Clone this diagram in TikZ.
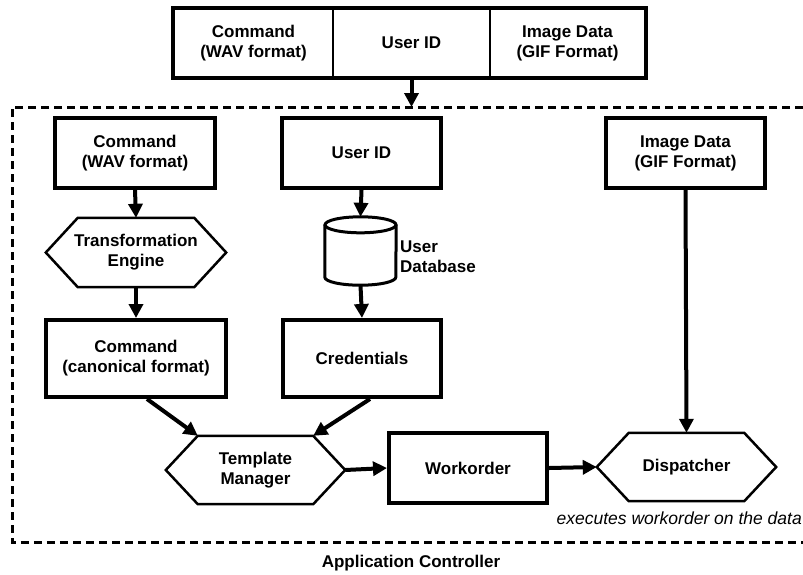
\documentclass[tikz,border=0pt]{standalone}
\usepackage{fontspec}
\setmainfont{Liberation Sans}
\usetikzlibrary{arrows.meta,calc}
\newcommand\HexShape[1]{\draw[hexline] (#1.west) -- ([xshift=32pt]#1.north west) -- ([xshift=-32pt]#1.north east) -- (#1.east) -- ([xshift=-32pt]#1.south east) -- ([xshift=32pt]#1.south west) -- cycle;}
\begin{document}
\begin{tikzpicture}[x=1pt,y=-1pt,
  lbl/.style={font=\bfseries\fontsize{17}{20}\selectfont, align=center, inner sep=0pt},
  cell/.style={lbl, draw, line width=1.5pt, minimum height=68pt},
  box/.style={lbl, draw, line width=4pt, minimum height=70pt},
  hexn/.style={lbl, minimum width=179pt, minimum height=68pt},
  hexline/.style={line width=2.5pt, line join=miter},
  cylline/.style={line width=3pt},
  arr/.style={line width=4pt, -{Triangle[length=14pt,width=14pt]}},
  dashline/.style={line width=3pt, dash pattern=on 8pt off 5pt},
  note/.style={font=\itshape\fontsize{17.5}{20}\selectfont, inner sep=0pt}
]
\useasboundingbox (0,0) rectangle (803,574);

% top message box
\node[cell, minimum width=159pt] (t1) at (253.5,43) {Command\\(WAV format)};
\node[cell, minimum width=157pt] (t2) at (411.5,43) {User ID};
\node[cell, minimum width=155pt] (t3) at (567.5,43) {Image Data\\(GIF Format)};
\draw[line width=4pt] (t1.north west) rectangle (t3.south east);

% application controller region
\draw[dashline] (803,107) -- (12,107) -- (12,542) -- (803,542);
\coordinate (ctltop) at (411.5,107);
\draw[arr] (t2.south) -- (ctltop);

% first row
\node[box, minimum width=160pt] (cw) at (135,153) {Command\\(WAV format)};
\node[box, minimum width=159pt] (uid) at (361.5,153) {User ID};
\node[box, minimum width=159pt] (img) at (685.5,153) {Image Data\\(GIF Format)};

% second row
\node[hexn, minimum width=180pt, minimum height=69pt] (te) at (136,252.5) {Transformation\\Engine};
\HexShape{te}
\node[minimum width=71pt, minimum height=68pt, inner sep=0pt] (db) at (360.5,251) {};
\draw[cylline] ($(db.north west)+(0,8)$) -- ($(db.south west)+(0,-8)$)
  arc[start angle=180, end angle=360, x radius=35.5pt, y radius=8pt]
  -- ($(db.north east)+(0,8)$);
\draw[cylline] ($(db.north)+(0,8)$) ellipse [x radius=35.5pt, y radius=8pt];
\node[lbl, anchor=west, align=left] (dbl) at (400,257) {User\\Database};

% third row
\node[box, minimum width=180pt, minimum height=77pt] (cc) at (136,358.5) {Command\\(canonical format)};
\node[box, minimum width=158pt, minimum height=77pt] (cr) at (362,358.5) {Credentials};

% bottom row
\node[hexn] (tm) at (255.5,470) {Template\\Manager};
\HexShape{tm}
\node[box, minimum width=158pt] (wo) at (468,468) {Workorder};
\node[hexn] (dp) at (686.5,467) {Dispatcher};
\HexShape{dp}
\node[note, anchor=east] (nt) at (802,518) {executes workorder on the data};
\node[lbl] (ac) at (411,563) {Application Controller};

% connectors
\draw[arr] (cw.south) -- (te.north);
\draw[arr] (te.south) -- (cc.north);
\draw[arr] (uid.south) -- (db.north);
\draw[arr] (db.south) -- (cr.north);
\draw[arr] ([xshift=11pt]cc.south) -- ([xshift=32pt]tm.north west);
\draw[arr] ([xshift=8pt]cr.south) -- ([xshift=-32pt]tm.north east);
\draw[arr] (tm.east) -- (wo.west);
\draw[arr] (wo.east) -- (dp.west);
\draw[arr] (img.south) -- (dp.north);
\end{tikzpicture}
\end{document}
